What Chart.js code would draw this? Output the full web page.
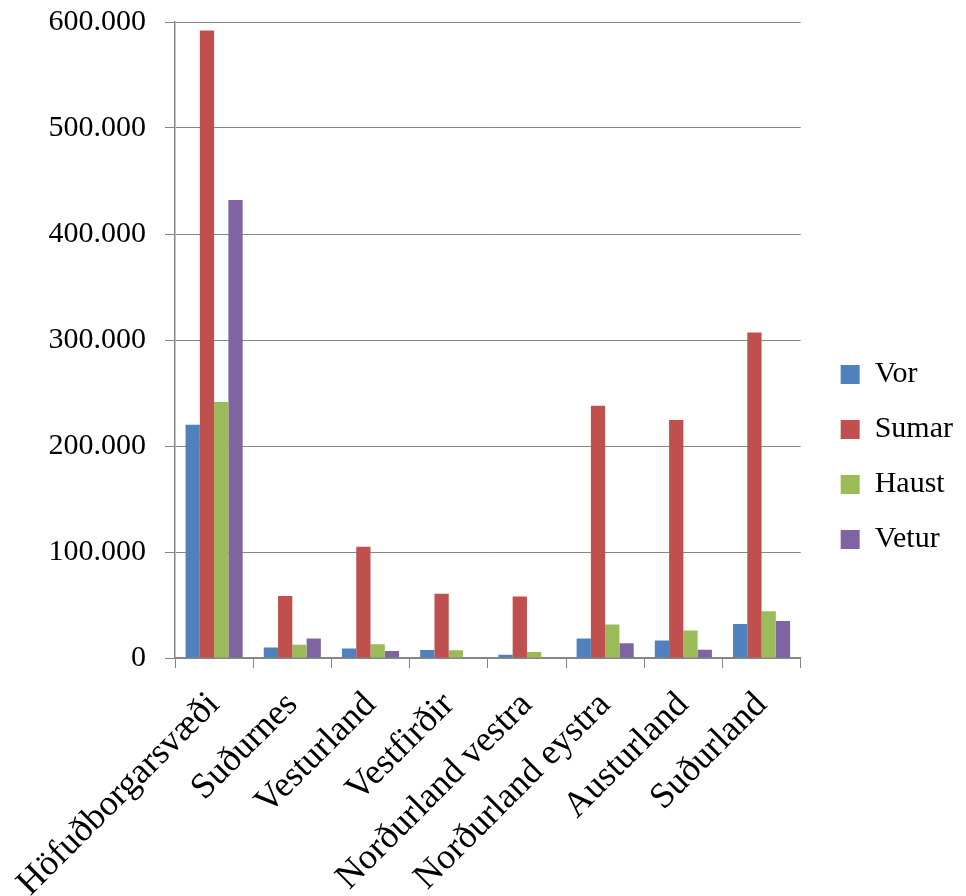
<!DOCTYPE html>
<html>
<head>
<meta charset="utf-8">
<script src="https://cdn.jsdelivr.net/npm/chart.js@4.4.1/dist/chart.umd.min.js"></script>
<style>
  html, body { margin: 0; padding: 0; background: #fff; }
  #wrap { width: 966px; height: 896px; }
</style>
</head>
<body>
<div id="wrap"><canvas id="chart" width="966" height="896"></canvas></div>
<script>
// regions and seasons
const regions = ['Höfuðborgarsvæði', 'Suðurnes', 'Vesturland', 'Vestfirðir', 'Norðurland vestra', 'Norðurland eystra', 'Austurland', 'Suðurland'];
const vor    = [220000, 10000, 9000, 7500, 3000, 18500, 16500, 32000];
const sumar  = [592000, 58500, 105000, 60500, 58000, 238000, 224500, 307000];
const haust  = [241500, 12500, 13000, 7200, 5700, 31500, 26000, 44000];
const vetur  = [432000, 18500, 6500, 0, 0, 14000, 7800, 35000];
const yTicks = [0, 100000, 200000, 300000, 400000, 500000, 600000];

const gray = '#868686';
const serif = '"Liberation Serif", "Times New Roman", serif';

const fmt = v => String(v).replace(/\B(?=(\d{3})+(?!\d))/g, '.');

// push the legend a bit right of the plot
const nudgeLegend = {
  id: 'nudgeLegend',
  afterLayout(chart) {
    chart.legend.left += 15;
    chart.legend.right += 15;
    chart.legend.top -= 2;
    chart.legend.bottom -= 2;
  }
};

new Chart(document.getElementById('chart'), {
  type: 'bar',
  data: {
    labels: regions,
    datasets: [
      { label: 'Vor', data: vor, backgroundColor: '#4F81BD' },
      { label: 'Sumar', data: sumar, backgroundColor: '#C0504D' },
      { label: 'Haust', data: haust, backgroundColor: '#9BBB59' },
      { label: 'Vetur', data: vetur, backgroundColor: '#8064A2' },
    ],
  },
  options: {
    responsive: false,
    animation: false,
    devicePixelRatio: 1,
    layout: { padding: { top: 22, right: 18 } },
    datasets: { bar: { categoryPercentage: 0.73, barPercentage: 1 } },
    plugins: {
      tooltip: { enabled: false },
      legend: {
        position: 'right',
        labels: {
          boxWidth: 19,
          boxHeight: 19,
          padding: 25,
          color: '#000',
          font: { family: serif, size: 30 },
        },
      },
    },
    scales: {
      x: {
        grid: { display: true, drawOnChartArea: false, drawTicks: true, tickLength: 10, color: gray, offset: true },
        border: { display: true, color: gray, width: 1.5 },
        ticks: {
          autoSkip: false,
          minRotation: 45,
          maxRotation: 45,
          padding: 16,
          color: '#000',
          font: { family: serif, size: 36 },
        },
        afterFit(scale) { scale.height = 238; scale.paddingLeft = 0; scale.paddingRight = 0; },
      },
      y: {
        min: 0,
        max: 600000,
        afterBuildTicks(scale) { scale.ticks = yTicks.map(v => ({ value: v })); },
        grid: { color: gray, lineWidth: 1, drawTicks: true, tickLength: 10 },
        border: { display: true, color: gray, width: 1.5 },
        ticks: {
          padding: 19,
          color: '#000',
          font: { family: serif, size: 30 },
          callback: v => fmt(v),
        },
        afterFit(scale) { scale.width = 175; scale.paddingTop = 0; scale.paddingBottom = 0; },
      },
    },
  },
  plugins: [nudgeLegend],
});
</script>
</body>
</html>
